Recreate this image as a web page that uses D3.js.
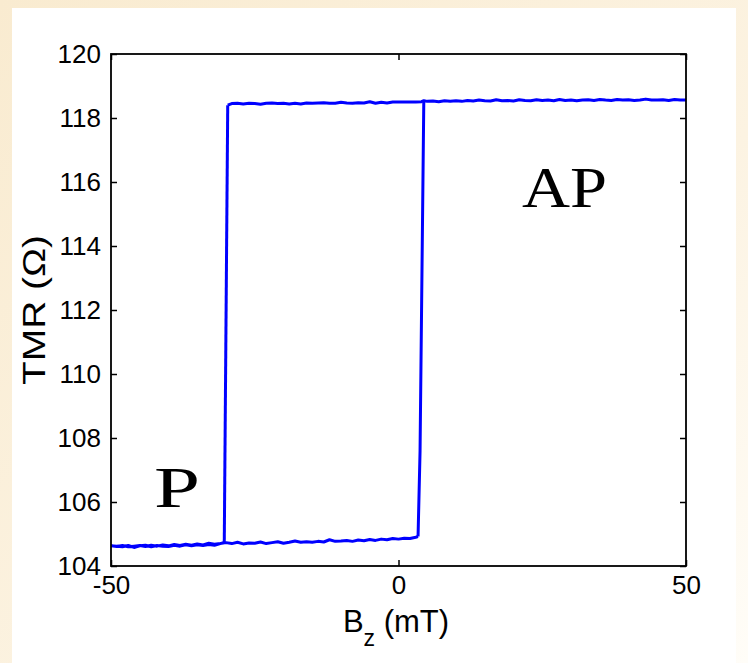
<!DOCTYPE html>
<html>
<head>
<meta charset="utf-8">
<script src="https://cdn.jsdelivr.net/npm/d3@7"></script>
<style>
  html, body { margin: 0; padding: 0; background: #fbf1dd; }
  svg { display: block; }
</style>
</head>
<body>
<svg id="chart" width="748" height="663"></svg>
<script>
// Field sweep (mT) and tunnel magnetoresistance (Ω), hysteresis loop of an MTJ
const xTicks = [-50, 0, 50];
const yTicks = [104, 106, 108, 110, 112, 114, 116, 118, 120];

// Upper (antiparallel) branch, swept from +50 mT down to the AP->P switch
const apField = [50, 49, 48, 47, 46, 45, 44, 43, 42, 41, 40, 39, 38, 37, 36, 35, 34, 33, 32, 31,
  30, 29, 28, 27, 26, 25, 24, 23, 22, 21, 20, 19, 18, 17, 16, 15, 14, 13, 12, 11,
  10, 9, 8, 7, 6, 5, 4.4, 4, 3, 2, 1, 0, -1, -2, -3, -4, -5, -6, -7, -8,
  -9, -10, -11, -12, -13, -14, -15, -16, -17, -18, -19, -20, -21, -22, -23, -24, -25, -26, -27, -28,
  -29, -29.7];
const apTMR = [118.56, 118.56, 118.58, 118.55, 118.57, 118.56, 118.56, 118.59, 118.56, 118.55, 118.57, 118.56, 118.58, 118.55, 118.56, 118.58, 118.55, 118.57, 118.56, 118.54,
  118.56, 118.55, 118.58, 118.54, 118.56, 118.55, 118.57, 118.54, 118.55, 118.57, 118.53, 118.55, 118.54, 118.57, 118.53, 118.54, 118.56, 118.53, 118.55, 118.52,
  118.54, 118.52, 118.54, 118.51, 118.53, 118.52, 118.54, 118.51, 118.50, 118.50, 118.50, 118.50, 118.50, 118.47, 118.49, 118.46, 118.51, 118.47, 118.48, 118.46,
  118.47, 118.49, 118.46, 118.46, 118.48, 118.47, 118.46, 118.47, 118.44, 118.46, 118.44, 118.46, 118.45, 118.47, 118.46, 118.43, 118.45, 118.46, 118.44, 118.46,
  118.45, 118.40];

// Lower (parallel) branch, swept from the switch down to -50 mT and back up to the P->AP switch
const pField = [-30.3, -31, -32, -33, -34, -35, -36, -37, -38, -39, -40, -41, -42, -43, -44, -45, -46, -47, -48, -49, -50,
  -49, -48, -47, -46, -45, -44, -43, -42, -41, -40, -39, -38, -37, -36, -35, -34, -33, -32, -31,
  -30, -29, -28, -27, -26, -25, -24, -23, -22, -21, -20, -19, -18, -17, -16, -15, -14, -13, -12, -11,
  -10, -9, -8, -7, -6, -5, -4, -3, -2, -1, 0, 1, 2, 3, 3.4];
const pTMR = [104.74, 104.70, 104.68, 104.71, 104.66, 104.69, 104.65, 104.68, 104.64, 104.67, 104.63, 104.66, 104.62, 104.65, 104.61, 104.64, 104.62, 104.60, 104.64, 104.61, 104.63,
  104.62, 104.60, 104.64, 104.58, 104.63, 104.65, 104.60, 104.64, 104.62, 104.61, 104.65, 104.62, 104.66, 104.63, 104.66, 104.64, 104.67, 104.65, 104.70,
  104.73, 104.70, 104.74, 104.69, 104.72, 104.71, 104.75, 104.70, 104.73, 104.76, 104.71, 104.74, 104.78, 104.74, 104.76, 104.74, 104.77, 104.75, 104.82, 104.77,
  104.78, 104.80, 104.77, 104.81, 104.79, 104.83, 104.80, 104.84, 104.82, 104.86, 104.84, 104.87, 104.86, 104.90, 104.92];

// Switching segments (AP -> P at negative field, P -> AP at positive field)
const apToPField = [-29.7, -30.3];
const apToPTMR = [118.40, 104.74];
const pToApField = [3.4, 3.75, 4.4];
const pToApTMR = [104.92, 107.6, 118.54];

const svg = d3.select("#chart");
const W = 748, H = 663;

// Page backdrop: parchment edge and white slide
const defs = svg.append("defs");
const grad = defs.append("linearGradient").attr("id", "parch")
  .attr("x1", "0").attr("y1", "0").attr("x2", "1").attr("y2", "1");
grad.append("stop").attr("offset", "0").attr("stop-color", "#f9ebd0");
grad.append("stop").attr("offset", "0.6").attr("stop-color", "#fcf3e2");
grad.append("stop").attr("offset", "1").attr("stop-color", "#fffdf8");
svg.append("rect").attr("width", W).attr("height", H).attr("fill", "url(#parch)");
svg.append("rect").attr("x", 12).attr("y", 8).attr("width", 724).attr("height", H - 8).attr("fill", "#ffffff");

const m = { left: 111, right: 686, top: 54, bottom: 566 };
const x = d3.scaleLinear().domain([-50, 50]).range([m.left, m.right]);
const y = d3.scaleLinear().domain([104, 120]).range([m.bottom, m.top]);

const g = svg.append("g");

// Data line
const line = d3.line().x(d => x(d[0])).y(d => y(d[1]));
const series = [
  d3.zip(apField, apTMR),
  d3.zip(apToPField, apToPTMR),
  d3.zip(pField, pTMR),
  d3.zip(pToApField, pToApTMR)
];
const clip = defs.append("clipPath").attr("id", "plotclip");
clip.append("rect").attr("x", m.left).attr("y", m.top).attr("width", m.right - m.left).attr("height", m.bottom - m.top);
g.append("g").attr("clip-path", "url(#plotclip)")
  .selectAll("path").data(series).join("path")
  .attr("d", line)
  .attr("fill", "none")
  .attr("stroke", "#0000ff")
  .attr("stroke-width", 3)
  .attr("stroke-linejoin", "round");

// Axes: ticks pointing inward on all four sides, box frame
const tickLen = 6;
const fontTick = "26px 'Liberation Sans', Arial, sans-serif";
const plain = d => String(d);

const axL = d3.axisLeft(y).tickValues(yTicks).tickSize(-tickLen).tickPadding(tickLen + 4).tickFormat(plain);
const axR = d3.axisRight(y).tickValues(yTicks).tickSize(-tickLen).tickFormat("");
const axB = d3.axisBottom(x).tickValues(xTicks).tickSize(-tickLen).tickPadding(tickLen + 4).tickFormat(plain);
const axT = d3.axisTop(x).tickValues(xTicks).tickSize(-tickLen).tickFormat("");

function styleAxis(sel) {
  sel.select(".domain").remove();
  sel.selectAll(".tick line").attr("stroke", "#000").attr("stroke-width", 1.5);
  sel.selectAll(".tick text").style("font", fontTick).attr("fill", "#000");
}
g.append("g").attr("transform", `translate(${m.left},0)`).call(axL).call(styleAxis);
g.append("g").attr("transform", `translate(${m.right},0)`).call(axR).call(styleAxis);
g.append("g").attr("transform", `translate(0,${m.bottom})`).call(axB).call(styleAxis);
g.append("g").attr("transform", `translate(0,${m.top})`).call(axT).call(styleAxis);

g.append("rect")
  .attr("x", m.left).attr("y", m.top)
  .attr("width", m.right - m.left).attr("height", m.bottom - m.top)
  .attr("fill", "none").attr("stroke", "#000").attr("stroke-width", 1.8);

// Axis titles
g.append("text")
  .attr("transform", `translate(45,${(m.top + m.bottom) / 2}) rotate(-90)`)
  .attr("text-anchor", "middle")
  .attr("textLength", 150).attr("lengthAdjust", "spacingAndGlyphs")
  .style("font", "31px 'Liberation Sans', Arial, sans-serif")
  .attr("fill", "#000")
  .text("TMR (Ω)");

const xTitle = g.append("text")
  .attr("x", 396).attr("y", 632)
  .attr("text-anchor", "middle")
  .style("font", "31px 'Liberation Sans', Arial, sans-serif")
  .attr("fill", "#000");
xTitle.append("tspan").text("B");
xTitle.append("tspan").attr("dy", 14).style("font-size", "23px").text("z");
xTitle.append("tspan").attr("dy", -14).text(" (mT)");

// State annotations
g.append("text")
  .attr("x", 522).attr("y", 207)
  .attr("textLength", 85).attr("lengthAdjust", "spacingAndGlyphs")
  .style("font", "56px 'Liberation Serif', 'Times New Roman', serif")
  .attr("fill", "#000")
  .text("AP");
g.append("text")
  .attr("x", 154).attr("y", 507)
  .attr("textLength", 46).attr("lengthAdjust", "spacingAndGlyphs")
  .style("font", "56px 'Liberation Serif', 'Times New Roman', serif")
  .attr("fill", "#000")
  .text("P");
</script>
</body>
</html>
